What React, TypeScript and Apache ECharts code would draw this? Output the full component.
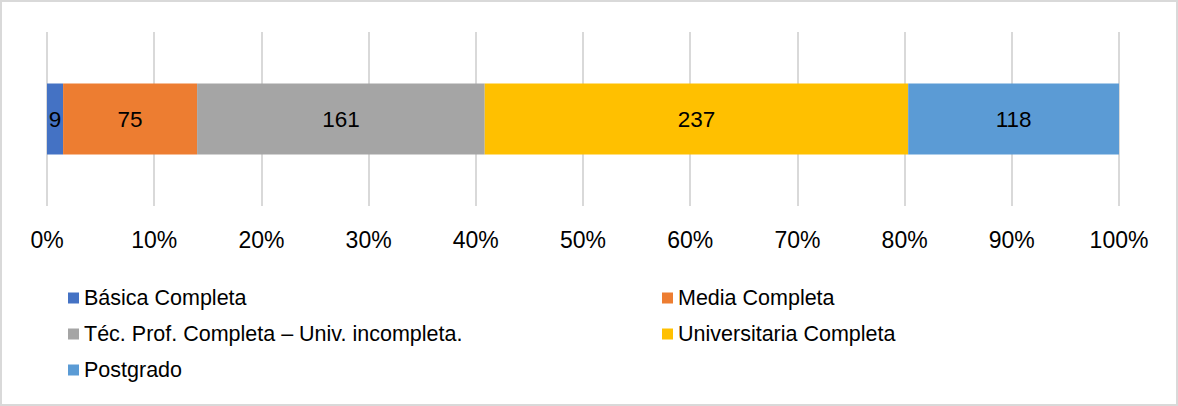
import React, { useEffect, useRef } from "react";
import * as echarts from "echarts";

const categories = ["Nivel"];
const seriesNames = [
  "Básica Completa",
  "Media Completa",
  "Téc. Prof. Completa – Univ. incompleta.",
  "Universitaria Completa",
  "Postgrado",
];
const seriesValues = [9, 75, 161, 237, 118];
const seriesColors = ["#4472C4", "#ED7D31", "#A5A5A5", "#FFC000", "#5B9BD5"];
const tickValues = [0, 10, 20, 30, 40, 50, 60, 70, 80, 90, 100];

const FONT = "'Liberation Sans', Arial, Helvetica, sans-serif";

export default function App() {
  const ref = useRef<HTMLDivElement>(null);
  useEffect(() => {
    if (!ref.current) return;
    const chart = echarts.init(ref.current, null, { renderer: "svg" });
    const total = seriesValues.reduce((a, b) => a + b, 0);
    const series = seriesNames.map((name, i) => ({
      name,
      type: "bar",
      stack: "total",
      barWidth: 71,
      itemStyle: { color: seriesColors[i] },
      label: {
        show: true,
        position: "inside",
        color: "#000",
        fontSize: 22.5,
        fontFamily: FONT,
        formatter: () => String(seriesValues[i]),
      },
      data: [(seriesValues[i] / total) * 100],
    }));
    const legendText = { fontSize: 21.5, lineHeight: 24, color: "#000", fontFamily: FONT };
    chart.setOption({
      animation: false,
      backgroundColor: "#fff",
      textStyle: { fontFamily: FONT },
      graphic: [
        {
          type: "rect",
          shape: { x: 1, y: 1, width: 1176, height: 404 },
          style: { fill: "none", stroke: "#d9d9d9", lineWidth: 2 },
          silent: true,
          z: -1,
        },
      ],
      grid: { left: 47, right: 59, top: 32, height: 174 },
      xAxis: {
        type: "value",
        min: tickValues[0],
        max: tickValues[tickValues.length - 1],
        interval: tickValues[1] - tickValues[0],
        axisLine: { show: false },
        axisTick: { show: false },
        splitLine: { show: true, lineStyle: { color: "#d9d9d9", width: 2 } },
        axisLabel: {
          formatter: "{value}%",
          fontSize: 23,
          color: "#000",
          fontFamily: FONT,
          margin: 22,
        },
      },
      yAxis: {
        type: "category",
        data: categories,
        show: false,
      },
      legend: [
        {
          orient: "vertical",
          left: 68,
          top: 286,
          padding: 0,
          itemWidth: 11,
          itemHeight: 11,
          itemGap: 12,
          icon: "rect",
          data: [seriesNames[0], seriesNames[2], seriesNames[4]],
          textStyle: legendText,
        },
        {
          orient: "vertical",
          left: 662,
          top: 286,
          padding: 0,
          itemWidth: 11,
          itemHeight: 11,
          itemGap: 12,
          icon: "rect",
          data: [seriesNames[1], seriesNames[3]],
          textStyle: legendText,
        },
      ],
      series,
    });
    return () => chart.dispose();
  }, []);
  return (
    <div
      ref={ref}
      style={{ position: "absolute", left: 0, top: 0, width: 1178, height: 406 }}
    />
  );
}
